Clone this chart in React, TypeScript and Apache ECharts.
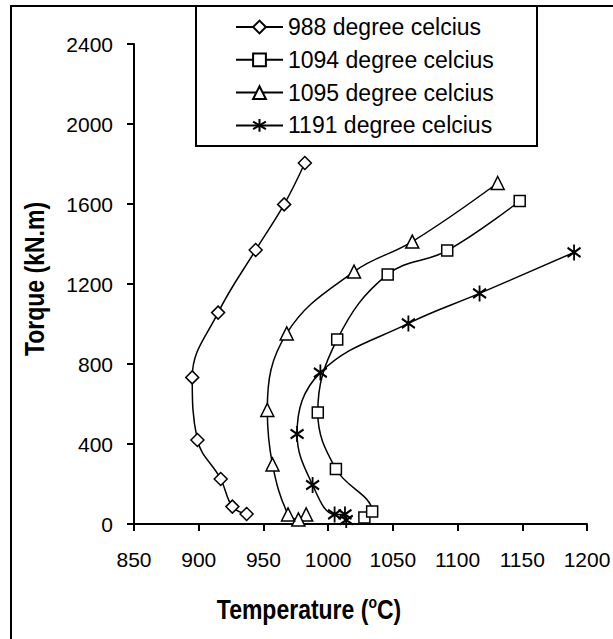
import React, { useEffect, useRef } from "react";
import * as echarts from "echarts";

const seriesNames = [
  "988 degree celcius",
  "1094 degree celcius",
  "1095 degree celcius",
  "1191 degree celcius",
];

const temp988 = [937, 926, 917, 899, 895, 915, 944, 966, 982];
const torque988 = [50, 87, 225, 420, 733, 1057, 1370, 1598, 1805];

const temp1094 = [1028, 1034, 1006, 992, 1007, 1046, 1092, 1148];
const torque1094 = [32, 62, 275, 557, 923, 1248, 1367, 1615];

const temp1095 = [983, 977, 969, 957, 953, 968, 1020, 1065, 1131];
const torque1095 = [48, 23, 48, 298, 570, 953, 1262, 1412, 1705];

const temp1191 = [1014, 1013, 1005, 988, 976, 994, 1062, 1117, 1190];
const torque1191 = [20, 48, 48, 195, 450, 757, 1003, 1153, 1358];

const xMin = 850;
const xMax = 1200;
const xStep = 50;
const yMin = 0;
const yMax = 2400;
const yStep = 400;

const FONT = 'Arial, "Liberation Sans", Helvetica, sans-serif';
const STAR = "path://M6 0L6 14M0 3L12 11M0 11L12 3";

function pairs(xs: number[], ys: number[]) {
  return xs.map((x, i) => [x, ys[i]]);
}

function makeSeries(
  name: string,
  data: number[][],
  symbol: string,
  size: any,
  fill: string,
  bw: number
) {
  return {
    name,
    type: "line",
    data,
    symbol,
    symbolSize: size,
    smooth: 0.4,
    showSymbol: true,
    lineStyle: { color: "#000", width: 1.5 },
    itemStyle: { color: fill, borderColor: "#000", borderWidth: bw },
    emphasis: { disabled: true },
    z: 3,
  };
}

export default function App() {
  const ref = useRef<HTMLDivElement>(null);

  useEffect(() => {
    if (!ref.current) return;
    const chart = echarts.init(ref.current, undefined, { renderer: "svg" });
    chart.setOption({
      animation: false,
      backgroundColor: "#fff",
      grid: {
        left: 134,
        right: 26,
        top: 44,
        bottom: 115,
        containLabel: false,
        outerBoundsMode: "none",
      },
      xAxis: {
        type: "value",
        min: xMin,
        max: xMax,
        interval: xStep,
        axisLine: { show: true, onZero: false, lineStyle: { color: "#000", width: 2 } },
        axisTick: { show: true, inside: false, length: 7, lineStyle: { color: "#000", width: 2 } },
        axisLabel: {
          color: "#000",
          fontSize: 21,
          fontFamily: FONT,
          margin: 25,
          formatter: (v: number) => String(v),
        },
        splitLine: { show: false },
      },
      yAxis: {
        type: "value",
        min: yMin,
        max: yMax,
        interval: yStep,
        axisLine: { show: true, onZero: false, lineStyle: { color: "#000", width: 2 } },
        axisTick: { show: true, inside: false, length: 7, lineStyle: { color: "#000", width: 2 } },
        axisLabel: {
          color: "#000",
          fontSize: 21,
          fontFamily: FONT,
          margin: 21,
          formatter: (v: number) => String(v),
        },
        splitLine: { show: false },
      },
      legend: {
        orient: "vertical",
        left: 230,
        top: 10,
        itemWidth: 47,
        itemHeight: 16,
        itemGap: 8.8,
        selectedMode: false,
        data: seriesNames,
        textStyle: { color: "#000", fontSize: 23, fontFamily: FONT, lineHeight: 24 },
      },
      graphic: [
        {
          type: "rect",
          silent: true,
          z: -10,
          shape: { x: 11, y: 6, width: 800, height: 800 },
          style: { fill: "none", stroke: "#000", lineWidth: 2 },
        },
        {
          type: "rect",
          silent: true,
          shape: { x: 196, y: 6, width: 341, height: 140 },
          style: { fill: "none", stroke: "#000", lineWidth: 2 },
        },
        {
          type: "text",
          silent: true,
          x: 309,
          y: 609,
          scaleY: 1.2,
          style: {
            text: "{a|Temperature (}{b|o}{a|C)}",
            align: "center",
            verticalAlign: "middle",
            fill: "#000",
            font: "bold 23px " + FONT,
            rich: {
              a: { fontSize: 23, fontWeight: "bold", fontFamily: FONT, fill: "#000", lineHeight: 26 },
              b: {
                fontSize: 14,
                fontWeight: "bold",
                fontFamily: FONT,
                fill: "#000",
                lineHeight: 16,
                verticalAlign: "top",
              },
            },
          },
        },
        {
          type: "text",
          silent: true,
          x: 34,
          y: 279,
          rotation: Math.PI / 2,
          scaleY: 1.2,
          style: {
            text: "Torque (kN.m)",
            align: "center",
            verticalAlign: "middle",
            fill: "#000",
            font: "bold 23px " + FONT,
          },
        },
      ],
      series: [
        makeSeries(seriesNames[0], pairs(temp988, torque988), "diamond", 13, "#fff", 1.5),
        makeSeries(seriesNames[1], pairs(temp1094, torque1094), "rect", 11, "#fff", 1.5),
        makeSeries(seriesNames[2], pairs(temp1095, torque1095), "triangle", 13, "#fff", 1.5),
        makeSeries(seriesNames[3], pairs(temp1191, torque1191), STAR, [13, 16], "#000", 2),
      ],
    });
    return () => chart.dispose();
  }, []);

  return (
    <div
      ref={ref}
      style={{ position: "absolute", left: 0, top: 0, width: 613, height: 639 }}
    />
  );
}
